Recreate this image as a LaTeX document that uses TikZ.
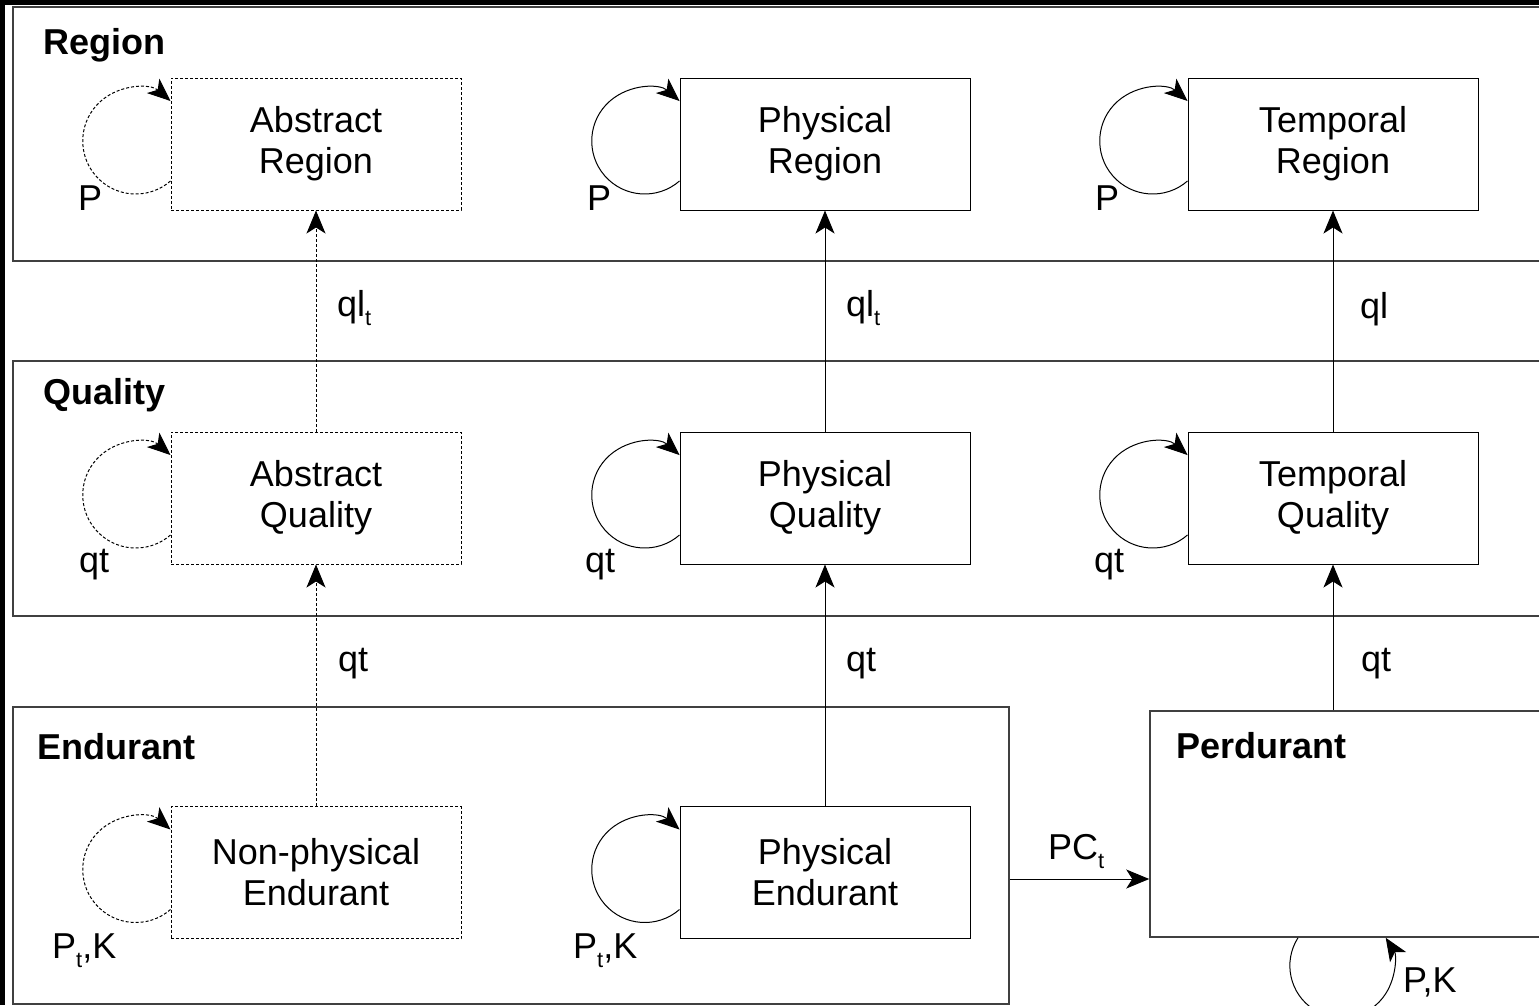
\documentclass[tikz,border=0pt]{standalone}
\usepackage{fontspec}
\setmainfont{Liberation Sans}
\usetikzlibrary{arrows.meta}

\newcommand{\subtxt}[1]{\raisebox{-9pt}{\fontsize{22}{22}\selectfont #1}}

\begin{document}
\begin{tikzpicture}[x=1pt,y=1pt,
    every node/.style={font=\fontsize{36}{41}\selectfont},
    frame/.style={draw=black!75,line width=1.5pt,inner sep=0pt},
    box/.style={draw,line width=1pt,minimum width=290pt,minimum height=132pt,align=center,inner sep=0pt},
    abs/.style={dash pattern=on 3pt off 2pt},
    arr/.style={-{Stealth[length=23pt,width=19pt,inset=6pt]},line width=1pt},
    title/.style={font=\fontsize{36}{41}\selectfont\bfseries,anchor=base west,inner sep=0pt},
    lbl/.style={anchor=base west,inner sep=0pt}]
    \useasboundingbox (0,0) rectangle (1539,-1005);
    \fill (0,0) rectangle (5,-1005);
    \fill (0,0) rectangle (1539,-5);

    % layers
    \node[frame,minimum width=1560pt,minimum height=254pt] (region) at (793,-134) {};
    \node[frame,minimum width=1560pt,minimum height=255pt] (quality) at (793,-488.5) {};
    \node[frame,minimum width=996pt,minimum height=297pt] (endurant) at (511,-855.5) {};
    \node[frame,minimum width=420pt,minimum height=226pt] (perdurant) at (1360,-824) {};
    \node[title] (tregion) at (43,-54) {Region};
    \node[title] (tquality) at (43,-404) {Quality};
    \node[title] (tendurant) at (37,-759) {Endurant};
    \node[title] (tperdurant) at (1176,-758) {Perdurant};

    % categories
    \node[box,abs] (ar) at (316,-144) {Abstract\\Region};
    \node[box] (phr) at (825,-144) {Physical\\Region};
    \node[box] (tr) at (1333,-144) {Temporal\\Region};
    \node[box,abs] (aq) at (316,-498) {Abstract\\Quality};
    \node[box] (pq) at (825,-498) {Physical\\Quality};
    \node[box] (tq) at (1333,-498) {Temporal\\Quality};
    \node[box,abs] (ne) at (316,-872.5) {Non-physical\\Endurant};
    \node[box] (pe) at (825,-872.5) {Physical\\Endurant};

    % self relations
    \foreach \b in {ar,aq,ne}
      \draw[arr,abs] ([yshift=-37pt]\b.west) arc[start angle=-49,end angle=-311,radius=53pt];
    \foreach \b in {phr,tr,pq,tq,pe}
      \draw[arr] ([yshift=-37pt]\b.west) arc[start angle=-49,end angle=-311,radius=53pt];
    \draw[arr] ([xshift=-62pt]perdurant.south) arc[start angle=147.5,end angle=392.5,radius=52pt];

    \foreach \x/\n in {78/pa,587/pb,1095/pc}
      \node[lbl] (\n) at (\x,-210) {P};
    \foreach \x/\n in {79/qa,585/qb,1094/qc}
      \node[lbl] (\n) at (\x,-572) {qt};
    \foreach \x/\n in {52/pka,573/pkb}
      \node[lbl] (\n) at (\x,-958) {P\subtxt{t},K};
    \node[lbl] (pkc) at (1403,-992) {P,K};

    % relations between layers
    \draw[arr,abs] (aq) -- (ar);
    \draw[arr] (pq) -- (phr);
    \draw[arr] (tq) -- (tr);
    \draw[arr,abs] (ne) -- (aq);
    \draw[arr] (pe) -- (pq);
    \draw[arr] (perdurant.north -| tq) -- (tq);
    \coordinate (pcy) at (0,-879);
    \draw[arr] (endurant.east |- pcy) -- (perdurant.west |- pcy);

    \node[lbl] (qla) at (337,-316) {ql\subtxt{t}};
    \node[lbl] (qlb) at (846,-316) {ql\subtxt{t}};
    \node[lbl] (qlc) at (1360,-318) {ql};
    \foreach \x/\n in {338/qta,846/qtb,1361/qtc}
      \node[lbl] (\n) at (\x,-671) {qt};
    \node[lbl] (pct) at (1048,-859) {PC\subtxt{t}};
  \end{tikzpicture}
\end{document}
